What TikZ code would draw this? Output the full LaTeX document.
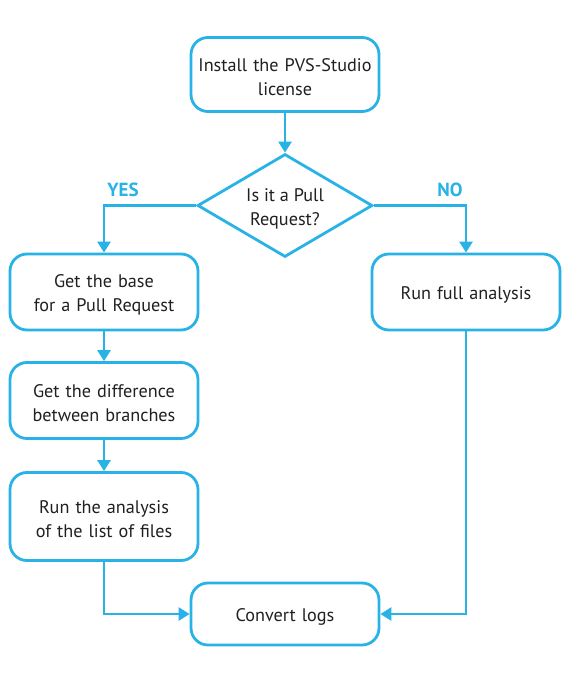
\documentclass[tikz,border=0pt]{standalone}
\usepackage{fontspec}
\setmainfont{PT Sans}
\usetikzlibrary{arrows.meta,shapes.geometric}
\definecolor{fcblue}{HTML}{29B2E6}
\definecolor{fctext}{HTML}{231F20}
\tikzset{
  x=1pt,y=-1pt,
  boxfont/.style={font=\fontsize{18.2}{24}\selectfont,
    execute at begin node={\rule{0pt}{19pt}}},
  flowbox/.style={draw=fcblue,line width=2.8pt,rounded corners=17pt,fill=white,
    minimum width=188pt,text width=186pt,align=center,text=fctext,
    boxfont,inner sep=0pt},
  flowline/.style={draw=fcblue,line width=2.8pt,-{Triangle[width=13pt,length=11pt]}},
  answer/.style={text=fcblue,font=\bfseries\fontsize{19}{20}\selectfont},
}
\begin{document}
\begin{tikzpicture}
\useasboundingbox (0,0) rectangle (564,682);
\node[flowbox,minimum height=74pt] (install) at (285,74.5) {Install the PVS-Studio\\license};
\node[draw=fcblue,line width=2.8pt,fill=white,inner sep=0pt,
  shape=diamond,minimum width=175pt,minimum height=103pt,aspect=1.7] (pr) at (285,205.5) {};
\node[text=fctext,font=\fontsize{18.2}{24}\selectfont,align=center,inner sep=0pt] (prtext) at (285,209) {Is it a Pull\\Request?};
\node[flowbox,minimum height=76pt] (base) at (104,292) {Get the base\\for a Pull Request};
\node[flowbox,minimum height=76pt] (diff) at (104,400.5) {Get the difference\\between branches};
\node[flowbox,minimum height=88pt] (runlist) at (104,516.5) {Run the analysis\\of the list of files};
\node[flowbox,minimum height=76pt] (full) at (466,292) {Run full analysis};
\node[flowbox,minimum height=62pt] (logs) at (285,614) {Convert logs};
\node[answer] (yes) at (123,190) {YES};
\node[answer] (no) at (450,190) {NO};
\coordinate (yescorner) at (104,205.5);
\coordinate (nocorner) at (466,205.5);
\coordinate (lcorner) at (104,614);
\coordinate (rcorner) at (466,614);
\draw[flowline] (install) -- (pr.north);
\draw[flowline] (pr.west) -- (yescorner) -- (base.north);
\draw[flowline] (pr.east) -- (nocorner) -- (full.north);
\draw[flowline] (base) -- (diff);
\draw[flowline] (diff) -- (runlist);
\draw[flowline] (runlist.south) -- (lcorner) -- (logs.west);
\draw[flowline] (full.south) -- (rcorner) -- (logs.east);
\end{tikzpicture}
\end{document}
